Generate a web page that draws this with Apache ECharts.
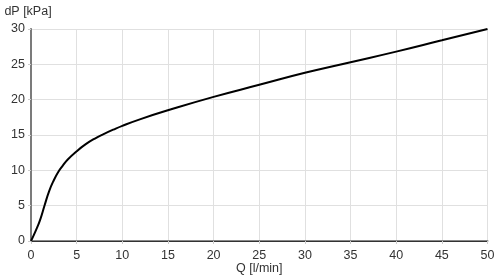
<!DOCTYPE html>
<html>
<head>
<meta charset="utf-8">
<script src="https://cdn.jsdelivr.net/npm/echarts@6/dist/echarts.min.js"></script>
<style>html,body{margin:0;padding:0;background:#fff}#c{width:500px;height:276px}</style>
</head>
<body>
<div id="c"></div>
<script>
var flowQ = [0, 0.5, 1, 1.5, 2, 2.5, 3, 3.5, 4, 5, 6, 7, 8, 9, 10, 12, 15, 20, 25, 30, 35, 40, 45, 50];
var pressureDP = [0, 1.4, 3.0, 5.1, 7.1, 8.6, 9.8, 10.7, 11.5, 12.7, 13.7, 14.5, 15.15, 15.75, 16.3, 17.25, 18.5, 20.4, 22.1, 23.8, 25.3, 26.8, 28.4, 30];
var xTicks = [0, 5, 10, 15, 20, 25, 30, 35, 40, 45, 50];
var yTicks = [0, 5, 10, 15, 20, 25, 30];
var xName = 'Q [l/min]';
var yName = 'dP [kPa]';

var chart = echarts.init(document.getElementById('c'), null, {renderer: 'canvas'});
var font = 'Liberation Sans, Arial, sans-serif';
var pts = flowQ.map(function (q, i) { return [q, pressureDP[i]]; });
chart.setOption({
  animation: false,
  grid: {left: 31, right: 12.5, top: 29, bottom: 35, containLabel: false, outerBoundsMode: 'none'},
  xAxis: [{
    type: 'value', min: xTicks[0], max: xTicks[xTicks.length - 1], interval: 5,
    name: xName, nameLocation: 'middle', nameGap: 21, nameMoveOverlap: false,
    nameTextStyle: {color: '#333', fontSize: 12.5, fontFamily: font},
    axisLine: {show: true, lineStyle: {color: '#888', width: 2}},
    axisTick: {show: true, length: 3, lineStyle: {color: '#ccc'}},
    axisLabel: {color: '#333', fontSize: 12.5, fontFamily: font, margin: 8},
    splitLine: {show: true, lineStyle: {color: '#e0e0e0', width: 1}}
  }, {
    type: 'value', position: 'top', min: 0, max: 50,
    axisLine: {show: true, lineStyle: {color: '#333', width: 1}},
    axisTick: {show: false}, axisLabel: {show: false}, splitLine: {show: false}
  }],
  yAxis: [{
    type: 'value', min: yTicks[0], max: yTicks[yTicks.length - 1], interval: 5,
    name: yName, nameLocation: 'end', nameGap: 11, nameMoveOverlap: false,
    nameTextStyle: {color: '#333', fontSize: 12.5, fontFamily: font, align: 'center', padding: [0, 6, 0, 0]},
    axisLine: {show: true, lineStyle: {color: '#888', width: 2}},
    axisTick: {show: true, length: 3, lineStyle: {color: '#ccc'}},
    axisLabel: {color: '#333', fontSize: 12.5, fontFamily: font, margin: 6},
    splitLine: {show: true, lineStyle: {color: '#e0e0e0', width: 1}}
  }, {
    type: 'value', position: 'right', min: 0, max: 30,
    axisLine: {show: true, lineStyle: {color: '#777', width: 1.5}},
    axisTick: {show: false}, axisLabel: {show: false}, splitLine: {show: false}
  }],
  series: [{
    type: 'line', data: pts, showSymbol: false, symbol: 'none',
    smooth: 0.5,
    lineStyle: {color: '#000', width: 2}
  }]
});
</script>
</body>
</html>
